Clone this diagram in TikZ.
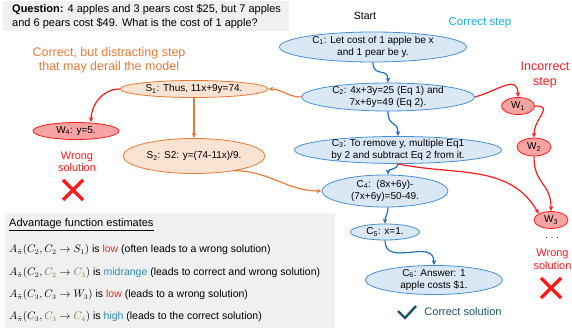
\documentclass[tikz,border=0pt]{standalone}
\usepackage{fontspec}
\setmainfont{Liberation Sans}
\usepackage{xcolor}
\usetikzlibrary{shapes.geometric,arrows.meta}
\definecolor{panelc}{HTML}{F0F0F0}
\definecolor{cfill}{HTML}{DAE8F6}
\definecolor{cline}{HTML}{4A8FD6}
\definecolor{carrowc}{HTML}{1F6FBF}
\definecolor{sfill}{HTML}{FBE3D4}
\definecolor{sline}{HTML}{E97A36}
\definecolor{wfill}{HTML}{F7A3A3}
\definecolor{wline}{HTML}{FF1A1A}
\definecolor{cyanc}{HTML}{1AADE4}
\definecolor{tealc}{HTML}{1F5469}
\definecolor{lowc}{HTML}{D9342B}
\definecolor{midc}{HTML}{2F8FB5}
\definecolor{greenc}{HTML}{5B8C3A}
\tikzset{
  stepnode/.style={ellipse, line width=0.8pt, inner xsep=0pt, inner ysep=-2pt, align=center, font=\fontsize{10}{12.5}\selectfont},
  cstep/.style={stepnode, draw=cline, fill=cfill},
  sstep/.style={stepnode, draw=sline, fill=sfill},
  wstep/.style={stepnode, draw=wline, fill=wfill},
  carrow/.style={draw=carrowc, line width=1.2pt, -{Stealth[length=5pt,width=4.5pt]}},
  sarrow/.style={draw=sline, line width=1.2pt, -{Stealth[length=5pt,width=4.5pt]}},
  warrow/.style={draw=wline, line width=1.2pt, -{Stealth[length=5pt,width=4.5pt]}},
  note/.style={align=center, inner sep=0pt},
  adv/.style={anchor=west, inner sep=0pt, font=\fontsize{10.5}{12}\selectfont},
  wrongx/.style={draw=wline, line width=3.2pt},
}

\begin{document}
\begin{tikzpicture}[x=1pt,y=1pt]
\useasboundingbox (0,0) rectangle (572,-328);
\fill[panelc] (3,-1) rectangle (289,-31);
\fill[panelc] (5,-213) rectangle (335,-330);
\node[anchor=west, align=left, inner sep=0pt, font=\fontsize{11}{13.5}\selectfont] (question) at (12,-16.5)
  {\textbf{Question:} 4 apples and 3 pears cost \$25, but 7 apples\\and 6 pears cost \$49. What is the cost of 1 apple?};

\node[note, font=\fontsize{10.5}{12}\selectfont] (start) at (365,-16) {Start};
\node[note, text=cyanc, font=\fontsize{11.5}{13}\selectfont] (correctlbl) at (480,-23) {Correct step};
\node[note, text=sline, font=\fontsize{12.5}{14}\selectfont] (distractlbl) at (109,-60) {Correct, but distracting step\\that may derail the model};
\node[note, text=wline, font=\fontsize{12.5}{15}\selectfont] (incorrectlbl) at (545,-75.5) {Incorrect\\step};

\node[cstep, minimum width=187pt, minimum height=30pt] (C1) at (373,-47) {C\textsubscript{1}: Let cost of 1 apple be x\\and 1 pear be y.};
\node[cstep, minimum width=173pt, minimum height=28pt] (C2) at (388,-97) {C\textsubscript{2}: 4x+3y=25 (Eq 1) and\\7x+6y=49 (Eq 2).};
\node[cstep, minimum width=207pt, minimum height=27pt] (C3) at (398,-150) {C\textsubscript{3}: To remove y, multiple Eq1\\by 2 and subtract Eq 2 from it.};
\node[cstep, minimum width=126pt, minimum height=32pt] (C4) at (385,-191) {C\textsubscript{4}:\ \ (8x+6y)-\\(7x+6y)=50-49.};
\node[cstep, minimum width=69pt, minimum height=16pt] (C5) at (385,-232) {C\textsubscript{5}: x=1.};
\node[cstep, minimum width=137pt, minimum height=29pt] (C6) at (434,-280) {C\textsubscript{6}: Answer: 1\\apple costs \$1.};

\node[sstep, minimum width=148pt, minimum height=17pt] (S1) at (194,-89) {S\textsubscript{1}: Thus, 11x+9y=74.};
\node[sstep, minimum width=142pt, minimum height=35pt] (S2) at (194,-156) {S\textsubscript{2}: S2: y=(74-11x)/9.};

\node[wstep, minimum width=86pt, minimum height=17pt] (W4) at (76,-131) {W\textsubscript{4}: y=5.};
\node[wstep, minimum width=33pt, minimum height=17pt] (W1) at (518,-106) {W\textsubscript{1}};
\node[wstep, minimum width=34pt, minimum height=18pt] (W2) at (534,-147) {W\textsubscript{2}};
\node[wstep, minimum width=34pt, minimum height=17pt] (W3) at (551,-220) {W\textsubscript{3}};

\draw[carrow] (C1.south) to[out=-90,in=90,looseness=1.6] (C2.north);
\draw[carrow] (C2.south) to[out=-90,in=90,looseness=1.6] (C3.north);
\draw[carrow] (C3.south) to[out=-90,in=90] ([xshift=3pt]C4.north);
\draw[carrow] ([xshift=3pt]C4.south) to[out=-90,in=90] (C5.north);
\draw[carrow] (C5.south) to[out=-90,in=90,looseness=1.3] (C6.north);

\draw[sarrow] (C2.west) to[out=180,in=0] (S1.east);
\draw[sarrow] (S1.south) -- (S2.north);
\draw[sarrow] (S2.-20) to[out=0,in=180] (C4.west);

\draw[warrow] (S1.west) to[out=180,in=90] ([xshift=15pt]W4.north);
\draw[warrow] (C2.east) to[out=15,in=90,looseness=1.4] (W1.north);
\draw[warrow] (W1.east) to[out=0,in=90,looseness=1.6] (W2.north);
\draw[warrow] (W2.south) to[out=-90,in=90,looseness=1.3] (W3.north);
\draw[warrow] (C3.south) to[out=-12,in=120] (W3.north west);

\node[note, text=wline, font=\fontsize{11}{12.5}\selectfont] (wrongleft) at (77,-162) {Wrong\\solution};
\draw[wrongx] (63,-180) -- (83,-200) (63,-200) -- (83,-180);
\node[note, font=\fontsize{9}{10}\selectfont] (dots) at (552,-238) {.\,\,.\,\,.};
\node[note, text=wline, font=\fontsize{11}{12.5}\selectfont] (wrongright) at (552.5,-259.5) {Wrong\\solution};
\draw[wrongx] (541,-278) -- (561,-298) (541,-298) -- (561,-278);

\draw[tealc, line width=2.4pt] (398,-311) -- (405,-318) -- (416,-306);
\node[note, text=tealc, font=\fontsize{11}{13}\selectfont] (correctsol) at (463,-312) {Correct solution};

\node[adv, font=\fontsize{11}{13}\selectfont] (advhead) at (9,-225) {\underline{Advantage function estimates}};
\node[adv] (adv1) at (9,-250) {$A_{\tilde{\pi}}(C_2, C_2 \rightarrow S_1)$ is \textcolor{lowc}{low} (often leads to a wrong solution)};
\node[adv] (adv2) at (9,-273) {$A_{\tilde{\pi}}(C_2, \textcolor{greenc}{C_2} \rightarrow \textcolor{greenc}{C_3})$ is \textcolor{midc}{midrange} (leads to correct and wrong solution)};
\node[adv] (adv3) at (9,-295) {$A_{\tilde{\pi}}(C_3, C_3 \rightarrow W_3)$ is \textcolor{lowc}{low} (leads to a wrong solution)};
\node[adv] (adv4) at (9,-317) {$A_{\tilde{\pi}}(C_3, \textcolor{greenc}{C_3} \rightarrow \textcolor{greenc}{C_4})$ is \textcolor{midc}{high} (leads to the correct solution)};
\end{tikzpicture}
\end{document}
